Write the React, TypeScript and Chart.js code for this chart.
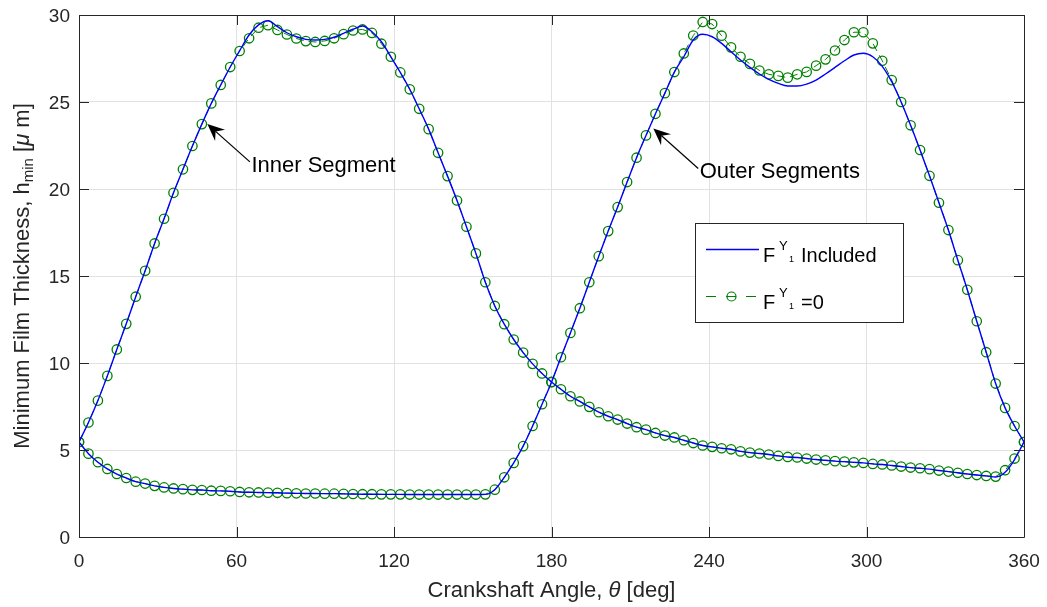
import React, { useEffect, useRef } from "react";
import { Chart, registerables } from "chart.js";

Chart.register(...registerables);

const FONT = '"Liberation Sans", Arial, Helvetica, sans-serif';

// Crankshaft angle grid [deg]
const angles = [
  0, 3.6, 7.2, 10.8, 14.4, 18, 21.6, 25.2, 28.8, 32.4, 36, 39.6, 43.2, 46.8, 50.4, 54, 57.6, 61.2, 64.8, 68.4,
  72, 75.6, 79.2, 82.8, 86.4, 90, 93.6, 97.2, 100.8, 104.4, 108, 111.6, 115.2, 118.8, 122.4, 126, 129.6, 133.2, 136.8, 140.4,
  144, 147.6, 151.2, 154.8, 158.4, 162, 165.6, 169.2, 172.8, 176.4, 180, 183.6, 187.2, 190.8, 194.4, 198, 201.6, 205.2, 208.8, 212.4,
  216, 219.6, 223.2, 226.8, 230.4, 234, 237.6, 241.2, 244.8, 248.4, 252, 255.6, 259.2, 262.8, 266.4, 270, 273.6, 277.2, 280.8, 284.4,
  288, 291.6, 295.2, 298.8, 302.4, 306, 309.6, 313.2, 316.8, 320.4, 324, 327.6, 331.2, 334.8, 338.4, 342, 345.6, 349.2, 352.8, 356.4, 360,
];

// Inner segment, F^Y_1 = 0 (green, markers)
const innerZero = [
  5.46, 6.58, 7.84, 9.26, 10.78, 12.25, 13.81, 15.3, 16.87, 18.29, 19.78, 21.13, 22.47, 23.73, 24.92, 25.98, 27.01, 27.93, 28.66, 29.27,
  29.41, 29.14, 28.88, 28.65, 28.5, 28.45, 28.51, 28.66, 28.9, 29.11, 29.17, 28.97, 28.35, 27.6, 26.7, 25.73, 24.61, 23.44, 22.08, 20.74,
  19.34, 17.83, 16.3, 14.64, 13.28, 12.23, 11.35, 10.6, 9.95, 9.4, 8.91, 8.49, 8.09, 7.79, 7.48, 7.17, 6.94, 6.75, 6.52, 6.31,
  6.17, 5.98, 5.83, 5.72, 5.56, 5.4, 5.26, 5.18, 5.1, 5.04, 4.92, 4.85, 4.8, 4.74, 4.66, 4.6, 4.57, 4.51, 4.45, 4.41,
  4.36, 4.33, 4.29, 4.26, 4.2, 4.17, 4.11, 4.05, 3.99, 3.95, 3.9, 3.82, 3.76, 3.69, 3.62, 3.56, 3.51, 3.47, 3.84, 4.51, 5.46,
];

// Inner segment, F^Y_1 included (blue)
const innerIncl = [
  5.46, 6.58, 7.84, 9.26, 10.78, 12.25, 13.81, 15.3, 16.87, 18.29, 19.78, 21.13, 22.47, 23.73, 24.92, 25.98, 27.01, 27.95, 28.85, 29.43,
  29.67, 29.33, 28.98, 28.75, 28.6, 28.56, 28.6, 28.72, 28.95, 29.18, 29.37, 29.04, 28.46, 27.6, 26.7, 25.73, 24.61, 23.44, 22.08, 20.74,
  19.34, 17.83, 16.3, 14.64, 13.28, 12.23, 11.35, 10.6, 9.95, 9.4, 8.91, 8.49, 8.09, 7.79, 7.48, 7.17, 6.94, 6.75, 6.52, 6.31,
  6.17, 5.98, 5.83, 5.72, 5.56, 5.4, 5.26, 5.18, 5.1, 5.04, 4.92, 4.85, 4.8, 4.74, 4.66, 4.6, 4.57, 4.51, 4.45, 4.41,
  4.36, 4.33, 4.29, 4.26, 4.2, 4.17, 4.11, 4.05, 3.99, 3.95, 3.9, 3.82, 3.76, 3.69, 3.62, 3.56, 3.51, 3.45, 3.72, 4.45, 5.46,
];

// Outer segments, F^Y_1 = 0 (green, markers)
const outerZero = [
  5.46, 4.79, 4.3, 3.91, 3.62, 3.39, 3.18, 3.07, 2.94, 2.85, 2.79, 2.75, 2.71, 2.7, 2.66, 2.65, 2.63, 2.59, 2.57, 2.56,
  2.55, 2.54, 2.52, 2.51, 2.5, 2.5, 2.49, 2.49, 2.48, 2.47, 2.46, 2.46, 2.45, 2.45, 2.45, 2.44, 2.44, 2.44, 2.44, 2.44,
  2.44, 2.44, 2.44, 2.45, 2.72, 3.43, 4.26, 5.22, 6.38, 7.63, 8.9, 10.33, 11.73, 13.15, 14.64, 16.14, 17.58, 18.96, 20.4, 21.8,
  23.08, 24.32, 25.51, 26.72, 27.79, 28.82, 29.6, 29.48, 28.81, 28.14, 27.6, 27.19, 26.81, 26.59, 26.5, 26.4, 26.59, 26.73, 27.09, 27.45,
  27.96, 28.56, 29.01, 29.01, 28.37, 27.37, 26.26, 25.0, 23.66, 22.24, 20.76, 19.21, 17.64, 15.91, 14.21, 12.4, 10.62, 8.82, 7.42, 6.38, 5.46,
];

// Outer segments, F^Y_1 included (blue)
const outerIncl = [
  5.46, 4.79, 4.3, 3.91, 3.62, 3.39, 3.18, 3.07, 2.94, 2.85, 2.79, 2.75, 2.71, 2.7, 2.66, 2.65, 2.63, 2.59, 2.57, 2.56,
  2.55, 2.54, 2.52, 2.51, 2.5, 2.5, 2.49, 2.49, 2.48, 2.47, 2.46, 2.46, 2.45, 2.45, 2.45, 2.44, 2.44, 2.44, 2.44, 2.44,
  2.44, 2.44, 2.44, 2.45, 2.72, 3.43, 4.26, 5.22, 6.38, 7.63, 8.9, 10.33, 11.73, 13.15, 14.64, 16.14, 17.58, 18.96, 20.4, 21.8,
  23.08, 24.32, 25.51, 26.72, 27.6, 28.56, 28.89, 28.75, 28.37, 27.89, 27.41, 26.99, 26.61, 26.3, 26.07, 25.92, 25.92, 26.03, 26.26, 26.61,
  26.99, 27.37, 27.7, 27.8, 27.6, 27.05, 26.17, 25.0, 23.66, 22.24, 20.76, 19.21, 17.64, 15.91, 14.21, 12.4, 10.62, 8.82, 7.42, 6.38, 5.46,
];

const xTicks = [0, 60, 120, 180, 240, 300, 360];
const yTicks = [0, 5, 10, 15, 20, 25, 30];

const legendItems = [
  { base: "F", sup: "Y", sub: "1", rest: " Included", kind: "blue" },
  { base: "F", sup: "Y", sub: "1", rest: " =0", kind: "green" },
];

// annotation arrows: tip and tail in data coordinates [deg, um]
const annotations = [
  { text: "Inner Segment", tip: [48.9, 23.73], tail: [65.1, 21.56] },
  { text: "Outer Segments", tip: [218.8, 23.48], tail: [235.9, 21.18] },
];

const BLUE = "#0000ff";
const GREEN = "#008000";
const AXIS = "#262626";

const toPts = (vals: number[]) => vals.map((v, i) => ({ x: angles[i], y: v }));

const decorPlugin = {
  id: "decor",
  afterDraw(chart: any) {
    const ctx: CanvasRenderingContext2D = chart.ctx;
    const a = chart.chartArea;
    const xs = chart.scales.x;
    const ys = chart.scales.y;
    ctx.save();

    // box
    ctx.strokeStyle = AXIS;
    ctx.lineWidth = 1;
    ctx.beginPath();
    ctx.rect(Math.round(a.left) + 0.5, Math.round(a.top) + 0.5, Math.round(a.right - a.left), Math.round(a.bottom - a.top));
    ctx.stroke();

    // ticks
    ctx.beginPath();
    xTicks.forEach((v) => {
      const px = Math.round(xs.getPixelForValue(v)) + 0.5;
      ctx.moveTo(px, a.bottom);
      ctx.lineTo(px, a.bottom - 10);
      ctx.moveTo(px, a.top);
      ctx.lineTo(px, a.top + 10);
    });
    yTicks.forEach((v) => {
      const py = Math.round(ys.getPixelForValue(v)) + 0.5;
      ctx.moveTo(a.left, py);
      ctx.lineTo(a.left + 10, py);
      ctx.moveTo(a.right, py);
      ctx.lineTo(a.right - 10, py);
    });
    ctx.stroke();

    // tick labels
    ctx.fillStyle = AXIS;
    ctx.font = `19px ${FONT}`;
    ctx.textBaseline = "alphabetic";
    ctx.textAlign = "center";
    xTicks.forEach((v) => {
      ctx.fillText(String(v), xs.getPixelForValue(v), a.bottom + 30);
    });
    ctx.textAlign = "right";
    yTicks.forEach((v) => {
      ctx.fillText(String(v), a.left - 9, ys.getPixelForValue(v) + 7);
    });

    // x title
    ctx.textAlign = "left";
    const cx = (a.left + a.right) / 2;
    const fN = `22px ${FONT}`;
    const fI = `italic 22px ${FONT}`;
    const segsX: [string, string][] = [
      ["Crankshaft Angle, ", fN],
      ["\u03b8", fI],
      [" [deg]", fN],
    ];
    let tw = 0;
    segsX.forEach(([t, f]) => {
      ctx.font = f;
      tw += ctx.measureText(t).width;
    });
    let xx = cx - tw / 2;
    segsX.forEach(([t, f]) => {
      ctx.font = f;
      ctx.fillText(t, xx, a.bottom + 60);
      xx += ctx.measureText(t).width;
    });

    // y title (rotated)
    const cy = (a.top + a.bottom) / 2;
    const segsY: [string, string, number][] = [
      ["Minimum Film Thickness, h", fN, 0],
      ["min", `15px ${FONT}`, 4],
      [" [", fN, 0],
      ["\u03bc", fI, 0],
      [" m]", fN, 0],
    ];
    tw = 0;
    segsY.forEach(([t, f]) => {
      ctx.font = f;
      tw += ctx.measureText(t).width;
    });
    ctx.save();
    ctx.translate(29, cy);
    ctx.rotate(-Math.PI / 2);
    xx = -tw / 2;
    segsY.forEach(([t, f, dy]) => {
      ctx.font = f;
      ctx.fillText(t, xx, dy);
      xx += ctx.measureText(t).width;
    });
    ctx.restore();

    // annotations
    annotations.forEach((an) => {
      const tx = xs.getPixelForValue(an.tip[0]);
      const ty = ys.getPixelForValue(an.tip[1]);
      const sx = xs.getPixelForValue(an.tail[0]);
      const sy = ys.getPixelForValue(an.tail[1]);
      const ang = Math.atan2(ty - sy, tx - sx);
      const cos = Math.cos(ang);
      const sin = Math.sin(ang);
      const hl = 17;
      const hw = 7.5;
      const notch = 11;
      ctx.strokeStyle = "#000";
      ctx.lineWidth = 1.2;
      ctx.beginPath();
      ctx.moveTo(sx, sy);
      ctx.lineTo(tx - cos * notch, ty - sin * notch);
      ctx.stroke();
      ctx.fillStyle = "#000";
      ctx.beginPath();
      ctx.moveTo(tx, ty);
      ctx.lineTo(tx - cos * hl - sin * hw, ty - sin * hl + cos * hw);
      ctx.lineTo(tx - cos * notch, ty - sin * notch);
      ctx.lineTo(tx - cos * hl + sin * hw, ty - sin * hl - cos * hw);
      ctx.closePath();
      ctx.fill();
      ctx.font = `22px ${FONT}`;
      ctx.textAlign = "left";
      ctx.fillText(an.text, sx + 1.5, sy + 10);
    });

    // legend
    const lx = 695;
    const ly = 223;
    const lw = 208;
    const lh = 99;
    ctx.fillStyle = "#fff";
    ctx.fillRect(lx, ly, lw, lh);
    ctx.strokeStyle = AXIS;
    ctx.lineWidth = 1;
    ctx.strokeRect(lx + 0.5, ly + 0.5, lw, lh);
    legendItems.forEach((it, k) => {
      const yLine = ly + 26.5 + k * 47;
      const base = yLine + 12.5;
      if (it.kind === "blue") {
        ctx.strokeStyle = BLUE;
        ctx.lineWidth = 1.3;
        ctx.setLineDash([]);
        ctx.beginPath();
        ctx.moveTo(lx + 11, yLine);
        ctx.lineTo(lx + 64, yLine);
        ctx.stroke();
      } else {
        ctx.strokeStyle = GREEN;
        ctx.lineWidth = 1.2;
        ctx.setLineDash([10, 10]);
        ctx.beginPath();
        ctx.moveTo(lx + 11, yLine);
        ctx.lineTo(lx + 64, yLine);
        ctx.stroke();
        ctx.setLineDash([]);
        ctx.beginPath();
        ctx.arc(lx + 36.5, yLine, 4.5, 0, Math.PI * 2);
        ctx.stroke();
      }
      ctx.fillStyle = "#000";
      ctx.textAlign = "left";
      const tx0 = lx + 68;
      ctx.font = `20px ${FONT}`;
      ctx.fillText(it.base, tx0, base);
      ctx.font = `13px ${FONT}`;
      ctx.fillText(it.sup, tx0 + 16, base - 12);
      ctx.font = `9px ${FONT}`;
      ctx.fillText(it.sub, tx0 + 26, base);
      ctx.font = `20px ${FONT}`;
      ctx.fillText(it.rest, tx0 + 32.4, base);
    });

    ctx.restore();
  },
};

export default function App() {
  const ref = useRef<HTMLCanvasElement>(null);
  useEffect(() => {
    const canvas = ref.current;
    if (!canvas) return;
    const gridCfg = { color: "#e2e2e2", lineWidth: 1, drawTicks: false };
    const chart = new Chart(canvas, {
      type: "line",
      data: {
        datasets: [
          {
            label: "inner incl",
            data: toPts(innerIncl),
            borderColor: BLUE,
            borderWidth: 1.4,
            pointRadius: 0,
            cubicInterpolationMode: "monotone",
            fill: false,
            order: 0,
          },
          {
            label: "outer incl",
            data: toPts(outerIncl),
            borderColor: BLUE,
            borderWidth: 1.4,
            pointRadius: 0,
            cubicInterpolationMode: "monotone",
            fill: false,
            order: 0,
          },
          {
            label: "inner zero",
            data: toPts(innerZero),
            borderColor: GREEN,
            borderWidth: 1,
            borderDash: [8, 5],
            pointRadius: 4.7,
            pointBorderWidth: 1.3,
            pointBorderColor: GREEN,
            pointBackgroundColor: "rgba(0,0,0,0)",
            tension: 0,
            fill: false,
            order: 1,
          },
          {
            label: "outer zero",
            data: toPts(outerZero),
            borderColor: GREEN,
            borderWidth: 1,
            borderDash: [8, 5],
            pointRadius: 4.7,
            pointBorderWidth: 1.3,
            pointBorderColor: GREEN,
            pointBackgroundColor: "rgba(0,0,0,0)",
            tension: 0,
            fill: false,
            order: 1,
          },
        ],
      } as any,
      options: {
        responsive: false,
        animation: false,
        layout: { padding: { top: 15, right: 23, left: 0, bottom: 0 } },
        plugins: { legend: { display: false }, tooltip: { enabled: false }, title: { display: false } },
        scales: {
          x: {
            type: "linear",
            min: 0,
            max: 360,
            ticks: { stepSize: 60, display: false },
            grid: gridCfg,
            border: { display: false },
            afterFit: (s: any) => {
              s.height = 70;
            },
          },
          y: {
            type: "linear",
            min: 0,
            max: 30,
            ticks: { stepSize: 5, display: false },
            grid: gridCfg,
            border: { display: false },
            afterFit: (s: any) => {
              s.width = 79;
            },
          },
        },
      } as any,
      plugins: [decorPlugin],
    });
    return () => chart.destroy();
  }, []);
  return (
    <div style={{ position: "fixed", left: 0, top: 0, width: 1047, height: 607, background: "#fff" }}>
      <canvas ref={ref} width={1047} height={607} style={{ display: "block", width: 1047, height: 607 }} />
    </div>
  );
}
